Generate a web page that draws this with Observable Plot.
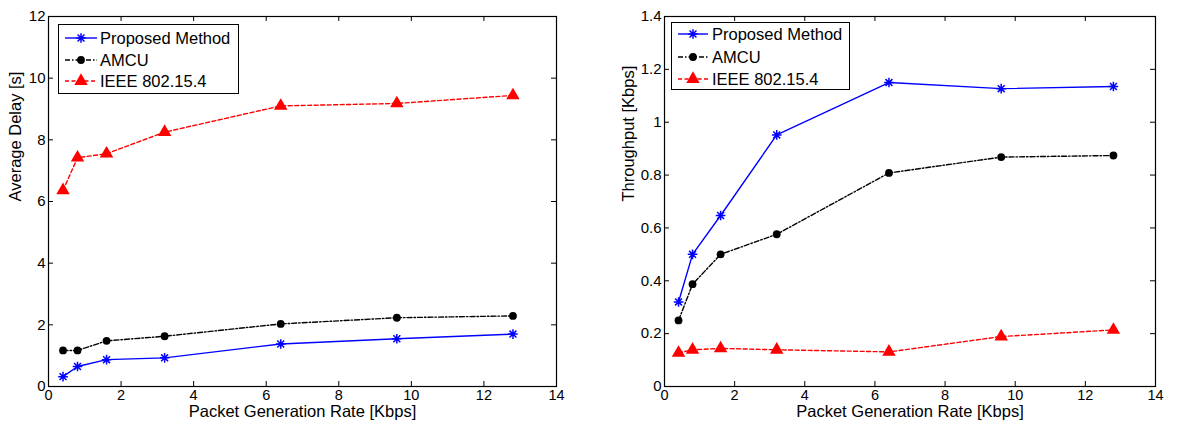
<!DOCTYPE html>
<html>
<head>
<meta charset="utf-8">
<script src="https://cdn.jsdelivr.net/npm/d3@7"></script>
<script src="https://cdn.jsdelivr.net/npm/@observablehq/plot@0.6"></script>
<style>
  html, body { margin: 0; padding: 0; background: #fff; }
  #wrap { position: relative; width: 1182px; height: 424px; font-family: "Liberation Sans", Arial, sans-serif; }
  .panel { position: absolute; top: 0; }
  .legend { position: absolute; background: #fff; border: 1px solid #000; box-sizing: border-box; }
  .legend .row { position: absolute; left: 0; height: 20px; display: flex; align-items: center; font-size: 16.5px; color: #000; white-space: nowrap; }
  .legend svg { display: block; }
</style>
</head>
<body>
<div id="wrap"></div>
<script>
// ---------------- data ----------------
const rates = [0.4, 0.8, 1.6, 3.2, 6.4, 9.6, 12.8];
const seriesNames = ["Proposed Method", "AMCU", "IEEE 802.15.4"];

const delayProposed = [0.32, 0.65, 0.87, 0.93, 1.38, 1.55, 1.70];
const delayAMCU     = [1.17, 1.17, 1.48, 1.63, 2.03, 2.23, 2.29];
const delayIEEE     = [6.36, 7.42, 7.55, 8.25, 9.10, 9.18, 9.44];

const thrProposed = [0.320, 0.500, 0.647, 0.952, 1.150, 1.127, 1.135];
const thrAMCU     = [0.250, 0.387, 0.500, 0.576, 0.808, 0.868, 0.874];
const thrIEEE     = [0.127, 0.139, 0.144, 0.139, 0.131, 0.189, 0.214];

const xTicks = [0, 2, 4, 6, 8, 10, 12, 14];
const delayTicks = [0, 2, 4, 6, 8, 10, 12];
const thrTicks = [0, 0.2, 0.4, 0.6, 0.8, 1, 1.2, 1.4];

const xLabel = "Packet Generation Rate [Kbps]";
const delayLabel = "Average Delay [s]";
const thrLabel = "Throughput [Kbps]";

// ---------------- styles ----------------
const asterisk = {
  draw(ctx, size) {
    const r = Math.sqrt(size / Math.PI);
    const d = r * 0.72;
    ctx.moveTo(-r, 0); ctx.lineTo(r, 0);
    ctx.moveTo(0, -r); ctx.lineTo(0, r);
    ctx.moveTo(-d, -d); ctx.lineTo(d, d);
    ctx.moveTo(-d, d); ctx.lineTo(d, -d);
  }
};
const styles = [
  {stroke: "#0000ff", dash: null, symbol: asterisk, fill: "none", mstroke: "#0000ff", r: 4.8, msw: 1.5},
  {stroke: "#000000", dash: "5,2,1.5,2", symbol: "circle", fill: "#000", mstroke: "none", r: 3.9, msw: 0},
  {stroke: "#ff0000", dash: "4,2.5", symbol: "triangle", fill: "#ff0000", mstroke: "none", r: 5, msw: 0}
];

function rows(values) {
  return rates.map((x, i) => ({x, y: values[i]}));
}

function panel({series, yDomain, yTicks, yLabel, yLabelDx, width, marginLeft, marginRight}) {
  const H = 424, mt = 16, mb = 38;
  const plotW = width - marginLeft - marginRight;
  const plotH = H - mt - mb;
  const marks = [
    Plot.frame({stroke: "#000", strokeWidth: 1.2}),
    Plot.tickX(xTicks, {x: d => d, insetTop: plotH - 5, stroke: "#000"}),
    Plot.tickX(xTicks, {x: d => d, insetBottom: plotH - 5, stroke: "#000"}),
    Plot.tickY(yTicks, {y: d => d, insetRight: plotW - 5, stroke: "#000"}),
    Plot.tickY(yTicks, {y: d => d, insetLeft: plotW - 5, stroke: "#000"}),
    Plot.axisX(xTicks, {tickSize: 0, tickPadding: 3, tickFormat: d => String(d), fontSize: 14.5, label: null}),
    Plot.axisY(yTicks, {tickSize: 0, tickPadding: 3, tickFormat: d => String(d), fontSize: 15, label: null}),
    Plot.text([xLabel], {frameAnchor: "bottom", dy: 30.5, text: d => d, fontSize: 16.5, fill: "#000"}),
    Plot.text([yLabel], {frameAnchor: "left", dx: yLabelDx, rotate: -90, text: d => d, fontSize: 16.5, fill: "#000"})
  ];
  series.forEach((vals, i) => {
    const s = styles[i];
    marks.push(Plot.line(rows(vals), {x: "x", y: "y", stroke: s.stroke, strokeWidth: 1.4, strokeDasharray: s.dash}));
  });
  series.forEach((vals, i) => {
    const s = styles[i];
    marks.push(Plot.dot(rows(vals), {x: "x", y: "y", symbol: s.symbol, r: s.r, fill: s.fill, stroke: s.mstroke, strokeWidth: s.msw}));
  });
  return Plot.plot({
    width, height: H,
    marginTop: mt, marginBottom: mb, marginLeft, marginRight,
    x: {domain: [0, 14]},
    y: {domain: yDomain},
    style: {fontFamily: '"Liberation Sans", Arial, sans-serif', fontSize: "15px", color: "#000", background: "transparent", overflow: "visible"},
    marks
  });
}

const wrap = document.getElementById("wrap");

const left = panel({
  series: [delayProposed, delayAMCU, delayIEEE],
  yDomain: [0, 12], yTicks: delayTicks, yLabel: delayLabel, yLabelDx: -33,
  width: 591, marginLeft: 48, marginRight: 35
});
left.classList.add("panel");
left.style.left = "0px";
wrap.appendChild(left);

const right = panel({
  series: [thrProposed, thrAMCU, thrIEEE],
  yDomain: [0, 1.4], yTicks: thrTicks, yLabel: thrLabel, yLabelDx: -36,
  width: 591, marginLeft: 73, marginRight: 27
});
right.classList.add("panel");
right.style.left = "591px";
wrap.appendChild(right);

// ---------------- legends ----------------
function sampleSvg(i, w) {
  const s = styles[i];
  const ns = "http://www.w3.org/2000/svg";
  const svg = document.createElementNS(ns, "svg");
  svg.setAttribute("width", w); svg.setAttribute("height", 20);
  const line = document.createElementNS(ns, "line");
  line.setAttribute("x1", 0); line.setAttribute("x2", w);
  line.setAttribute("y1", 10); line.setAttribute("y2", 10);
  line.setAttribute("stroke", s.stroke); line.setAttribute("stroke-width", 1.4);
  if (s.dash) line.setAttribute("stroke-dasharray", s.dash);
  svg.appendChild(line);
  const path = document.createElementNS(ns, "path");
  const p = d3.path();
  const sym = typeof s.symbol === "string"
    ? (s.symbol === "circle" ? d3.symbolCircle : d3.symbolTriangle)
    : s.symbol;
  sym.draw(p, Math.PI * s.r * s.r);
  path.setAttribute("d", p.toString());
  path.setAttribute("transform", `translate(${w / 2},10)`);
  path.setAttribute("fill", s.fill);
  path.setAttribute("stroke", s.mstroke);
  path.setAttribute("stroke-width", s.msw);
  svg.appendChild(path);
  return svg;
}

function legend(x, y, w, h, rowYs, sampleX, sampleW, textX) {
  const box = document.createElement("div");
  box.className = "legend";
  Object.assign(box.style, {left: x + "px", top: y + "px", width: w + "px", height: h + "px"});
  seriesNames.forEach((name, i) => {
    const row = document.createElement("div");
    row.className = "row";
    row.style.top = (rowYs[i] - 10) + "px";
    row.style.left = sampleX + "px";
    row.appendChild(sampleSvg(i, sampleW));
    const span = document.createElement("span");
    span.textContent = name;
    span.style.marginLeft = (textX - sampleX - sampleW) + "px";
    row.appendChild(span);
    box.appendChild(row);
  });
  wrap.appendChild(box);
}

legend(58, 24, 181, 70, [13, 35, 56], 6, 32, 41);
legend(671, 22, 179, 68, [11, 34, 56], 6, 30, 40);
</script>
</body>
</html>
